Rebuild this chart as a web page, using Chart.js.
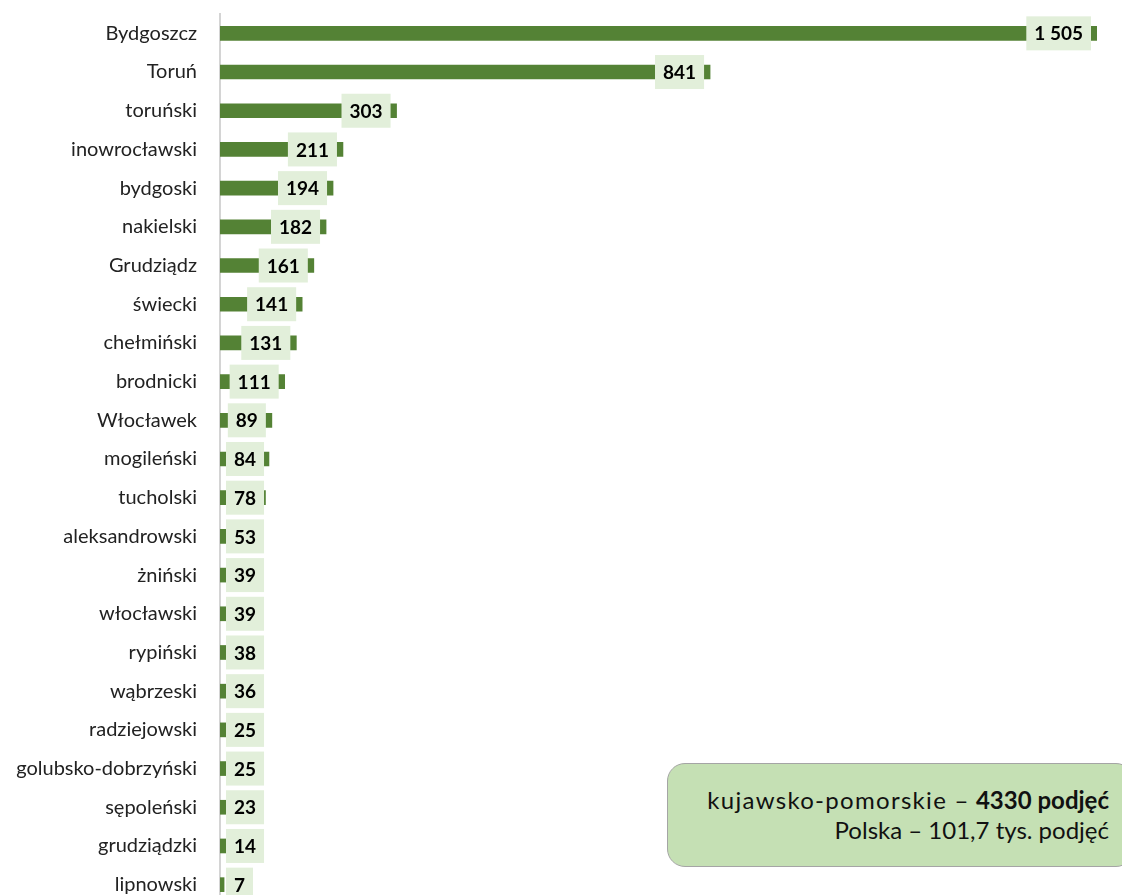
<!DOCTYPE html>
<html>
<head>
<meta charset="utf-8">
<script src="https://cdn.jsdelivr.net/npm/chart.js@4"></script>
<style>
    html, body { margin: 0; padding: 0; background: #fff; overflow: hidden; }
    #wrap { position: relative; width: 1122px; height: 895px; overflow: hidden; }
    #summary {
        position: absolute; left: 667px; top: 763px; width: 441px; height: 102px;
        padding-right: 24px;
        background: #c5e0b4; border: 1px solid #a5a5a5; border-radius: 18px;
        display: flex; flex-direction: column; justify-content: center; align-items: flex-end;
        font-family: Lato, sans-serif; font-size: 24px; line-height: 30px; color: #111;
    }
    #summary .wide { letter-spacing: 1.3px; }
</style>
</head>
<body>
<div id="wrap">
    <canvas id="chart" width="1122" height="916"></canvas>
    <div id="summary">
        <div><span class="wide">kujawsko-pomorskie –</span> <b>4330 podjęć</b></div>
        <div>Polska – 101,7 tys. podjęć</div>
    </div>
</div>
<script>
const regions = ['Bydgoszcz', 'Toruń', 'toruński', 'inowrocławski', 'bydgoski', 'nakielski',
    'Grudziądz', 'świecki', 'chełmiński', 'brodnicki', 'Włocławek', 'mogileński', 'tucholski',
    'aleksandrowski', 'żniński', 'włocławski', 'rypiński', 'wąbrzeski', 'radziejowski',
    'golubsko-dobrzyński', 'sępoleński', 'grudziądzki', 'lipnowski'];
const values = [1505, 841, 303, 211, 194, 182, 161, 141, 131, 111, 89, 84, 78, 53, 39, 39, 38, 36, 25, 25, 23, 14, 7];

function formatNumber(n) {
    return String(n).replace(/\B(?=(\d{3})+(?!\d))/g, ' ');
}

// value labels on light green boxes near the end of each bar
const valueLabels = {
    id: 'valueLabels',
    afterDatasetsDraw(chart) {
        const ctx = chart.ctx;
        const meta = chart.getDatasetMeta(0);
        const left = chart.chartArea.left;
        ctx.save();
        ctx.font = 'bold 19px Lato, sans-serif';
        ctx.textBaseline = 'middle';
        ctx.textAlign = 'left';
        meta.data.forEach((bar, i) => {
            const text = formatNumber(values[i]);
            const w = ctx.measureText(text).width + 16;
            const h = 34;
            let x = bar.x - 6 - w;
            if (x < left + 6) x = left + 6;
            ctx.fillStyle = '#e2efda';
            ctx.fillRect(x, bar.y - h / 2, w, h);
            ctx.fillStyle = '#000';
            ctx.fillText(text, x + 8, bar.y + 1);
        });
        ctx.restore();
    }
};

new Chart(document.getElementById('chart'), {
    type: 'bar',
    data: {
        labels: regions,
        datasets: [{
            data: values,
            backgroundColor: '#548235',
            barThickness: 14
        }]
    },
    options: {
        indexAxis: 'y',
        responsive: false,
        animation: false,
        layout: { padding: { top: 14, right: 25, bottom: 0, left: 0 } },
        plugins: {
            legend: { display: false },
            tooltip: { enabled: false }
        },
        scales: {
            x: { display: false, min: 0, max: 1505 },
            y: {
                afterFit(scale) { scale.width = 220; },
                grid: { display: true, drawOnChartArea: false, drawTicks: true, tickLength: 23, tickColor: 'rgba(0,0,0,0)' },
                border: { display: true, color: '#d4d4d4', width: 2 },
                ticks: {
                    padding: 0,
                    color: '#222',
                    font: { family: 'Lato, sans-serif', size: 20 }
                }
            }
        }
    },
    plugins: [valueLabels]
});
</script>
</body>
</html>
